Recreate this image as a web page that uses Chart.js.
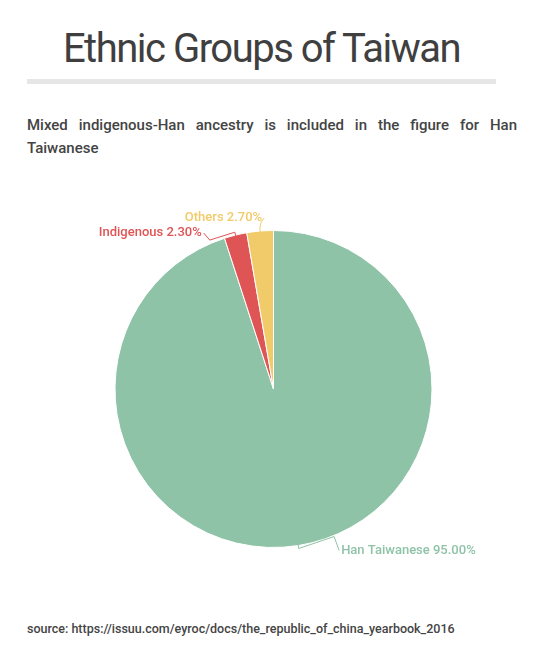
<!DOCTYPE html>
<html>
<head>
<meta charset="utf-8">
<script src="https://cdn.jsdelivr.net/npm/chart.js@4"></script>
<style>
  html, body { margin: 0; padding: 0; background: #fff; }
  body { width: 547px; height: 658px; position: relative; overflow: hidden; font-family: Roboto, "Noto Sans", sans-serif; color: #444; }
  h1 { position: absolute; top: 24px; left: 27px; width: 469px; margin: 0; text-align: center; font-size: 40px; font-weight: 400; letter-spacing: -1.5px; line-height: 50px; color: #3f3f3f; }
  .rule { position: absolute; top: 79px; left: 27px; width: 469px; height: 5px; background: #e6e6e6; }
  .sub { position: absolute; top: 114px; left: 27px; width: 490px; margin: 0; font-size: 15px; font-weight: 500; line-height: 23px; text-align: justify; color: #444; }
  .src { position: absolute; top: 620px; left: 27px; margin: 0; font-size: 12.5px; font-weight: 500; line-height: 18px; color: #444; }
  .wrap { position: absolute; top: 174px; left: 0; width: 547px; height: 430px; }
</style>
</head>
<body>
<h1>Ethnic Groups of Taiwan</h1>
<div class="rule"></div>
<p class="sub">Mixed indigenous-Han ancestry is included in the figure for Han Taiwanese</p>
<div class="wrap"><canvas id="pie"></canvas></div>
<p class="src">source: https://issuu.com/eyroc/docs/the_republic_of_china_yearbook_2016</p>
<script>
const groups = ["Han Taiwanese", "Indigenous", "Others"];
const shares = [95.0, 2.3, 2.7];
const colors = ["#8fc3a7", "#df5454", "#f1cb6a"];

// leader line shapes: [elbow dx, elbow dy, end dx, end dy, text align] relative to the arc edge point
const leaders = [
  [36, -8, 41, 6, "left"],
  [-26, 4, -32, -3, "right"],
  [1, -10, 4, -14, "right"],
];

const outsideLabels = {
  id: "outsideLabels",
  afterDatasetsDraw(chart) {
    const c = chart.ctx;
    const meta = chart.getDatasetMeta(0);
    meta.data.forEach((arc, i) => {
      const mid = (arc.startAngle + arc.endAngle) / 2;
      const r = arc.outerRadius;
      const x0 = arc.x + Math.cos(mid) * (r - 1);
      const y0 = arc.y + Math.sin(mid) * (r - 1);
      const x1 = arc.x + Math.cos(mid) * (r + 3);
      const y1 = arc.y + Math.sin(mid) * (r + 3);
      const [ex, ey, tx, ty, align] = leaders[i];
      c.save();
      c.strokeStyle = colors[i];
      c.lineWidth = 1;
      c.beginPath();
      c.moveTo(x0, y0);
      c.lineTo(x1, y1);
      c.lineTo(x0 + ex, y0 + ey);
      c.lineTo(x0 + tx, y0 + ty);
      c.stroke();
      c.fillStyle = colors[i];
      c.font = "500 13px Roboto";
      c.textAlign = align;
      c.textBaseline = "middle";
      const pad = align === "left" ? 2 : -2;
      c.fillText(`${groups[i]} ${shares[i].toFixed(2)}%`, x0 + tx + pad, y0 + ty);
      c.restore();
    });
  },
};

new Chart(document.getElementById("pie"), {
  type: "pie",
  data: {
    labels: groups,
    datasets: [{
      data: shares,
      backgroundColor: colors,
      borderColor: "#ffffff",
      borderWidth: 1,
    }],
  },
  options: {
    responsive: true,
    maintainAspectRatio: false,
    animation: false,
    layout: { padding: { top: 56, bottom: 56 } },
    plugins: {
      legend: { display: false },
      tooltip: { enabled: false },
    },
  },
  plugins: [outsideLabels],
});
</script>
</body>
</html>
